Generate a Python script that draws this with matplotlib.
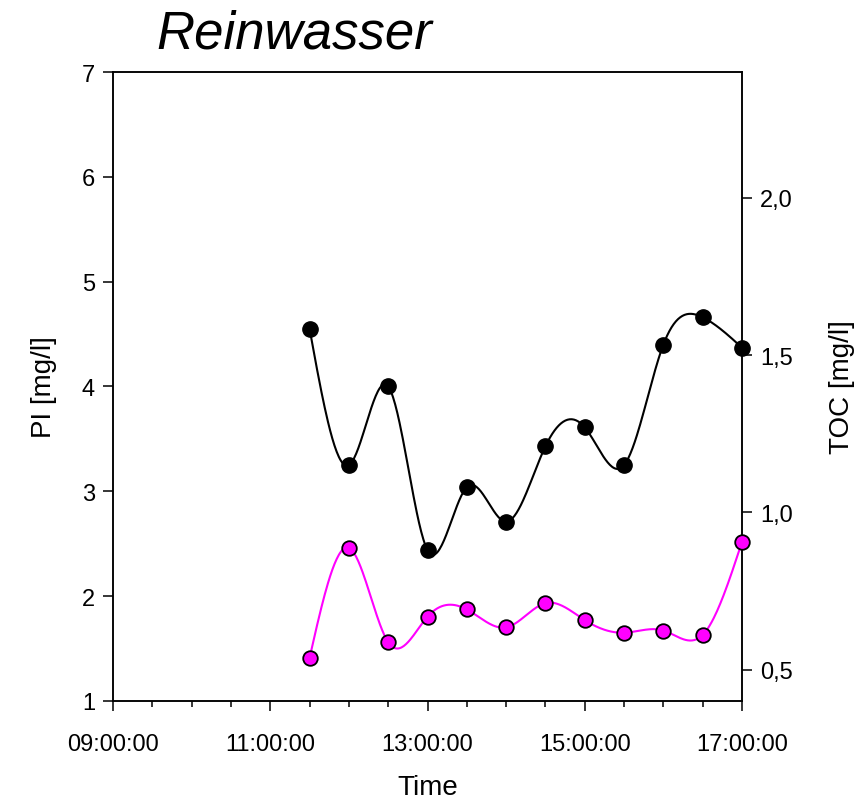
import numpy as np
import matplotlib
matplotlib.use("Agg")
import matplotlib.pyplot as plt
from matplotlib.ticker import FixedLocator, MultipleLocator, FuncFormatter

plt.rcParams['font.family'] = ['Liberation Sans', 'DejaVu Sans']

# Sampling times (hh:mm)
times = ["11:30", "12:00", "12:30", "13:00", "13:30", "14:00",
         "14:30", "15:00", "15:30", "16:00", "16:30", "17:00"]
# PI [mg/l] (left axis, black)
pi_vals = [4.55, 3.25, 4.00, 2.44, 3.04, 2.71, 3.43, 3.61, 3.25, 4.40, 4.66, 4.37]
# TOC [mg/l] (right axis, magenta)
toc_vals = [0.537, 0.887, 0.587, 0.668, 0.691, 0.634, 0.711, 0.657, 0.617, 0.624, 0.610, 0.906]

x_major = [9, 11, 13, 15, 17]


def to_hours(t):
    h, m = t.split(":")
    return int(h) + int(m) / 60.0


def natural_spline(x, y, n=400):
    # natural cubic spline through the data points (like SigmaPlot "spline")
    x = np.asarray(x, float)
    y = np.asarray(y, float)
    k = len(x)
    h = np.diff(x)
    A = np.zeros((k, k))
    b = np.zeros(k)
    A[0, 0] = A[-1, -1] = 1
    for i in range(1, k - 1):
        A[i, i - 1] = h[i - 1]
        A[i, i] = 2 * (h[i - 1] + h[i])
        A[i, i + 1] = h[i]
        b[i] = 3 * ((y[i + 1] - y[i]) / h[i] - (y[i] - y[i - 1]) / h[i - 1])
    c = np.linalg.solve(A, b)
    xs = np.linspace(x[0], x[-1], n)
    idx = np.clip(np.searchsorted(x, xs) - 1, 0, k - 2)
    dx = xs - x[idx]
    hi = h[idx]
    bb = (y[idx + 1] - y[idx]) / hi - hi * (2 * c[idx] + c[idx + 1]) / 3
    dd = (c[idx + 1] - c[idx]) / (3 * hi)
    ys = y[idx] + bb * dx + c[idx] * dx ** 2 + dd * dx ** 3
    return xs, ys


hours = [to_hours(t) for t in times]

fig = plt.figure(figsize=(8.64, 8.04), dpi=100)
ax = fig.add_axes([0.1308, 0.1269, 0.7280, 0.7823])
ax2 = ax.twinx()

xs, ys = natural_spline(hours, pi_vals)
ax.plot(xs, ys, color='black', lw=1.5, zorder=2)
ax.plot(hours, pi_vals, 'o', color='black', ms=11, mec='black', zorder=3, clip_on=False)

xs2, ys2 = natural_spline(hours, toc_vals)
ax2.plot(xs2, ys2, color='#FF00FF', lw=1.5, zorder=2)
ax2.plot(hours, toc_vals, 'o', color='#FF00FF', ms=10.5, mec='black', mew=1.3,
         zorder=3, clip_on=False)

ax.set_xlim(9, 17)
ax.set_ylim(1, 7)
ax2.set_ylim(0.4, 2.4)

ax.xaxis.set_major_locator(FixedLocator(x_major))
ax.xaxis.set_minor_locator(MultipleLocator(0.5))
ax.xaxis.set_major_formatter(FuncFormatter(lambda v, p: f"{int(round(v)):02d}:00:00"))
ax.yaxis.set_major_locator(MultipleLocator(1))
ax2.yaxis.set_major_locator(FixedLocator([0.5, 1.0, 1.5, 2.0]))
ax2.yaxis.set_major_formatter(FuncFormatter(lambda v, p: f"{v:.1f}".replace(".", ",")))

for a in (ax, ax2):
    for s in a.spines.values():
        s.set_linewidth(1.1)
    a.tick_params(which='major', direction='out', length=7, width=1.1, labelsize=17, pad=6)
    a.tick_params(which='minor', direction='out', length=4.5, width=1.1)
ax.tick_params(axis='x', which='major', pad=16)

ax.set_xlabel("Time", fontsize=20, labelpad=14)
ax.set_ylabel("PI [mg/l]", fontsize=20, labelpad=18)
ax2.set_ylabel("TOC [mg/l]", fontsize=20, labelpad=26)

fig.text(0.341, 0.957, "Reinwasser", fontsize=38, style='italic', ha='center', va='center')

fig.savefig("out.png", dpi=100)
